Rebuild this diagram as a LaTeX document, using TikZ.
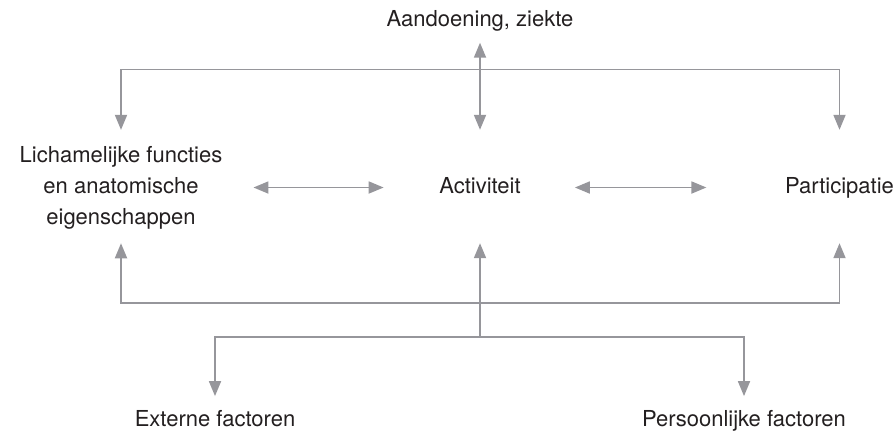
\documentclass[tikz,border=0pt]{standalone}
\usepackage{fontspec}
\setmainfont{TeX Gyre Heros}
\usepackage{xcolor}
\usetikzlibrary{arrows.meta}

\begin{document}
\begin{tikzpicture}[x=1pt,y=1pt,yscale=-1,xscale=1,
  tekst/.style={inner sep=0pt,text height=16pt,text depth=4pt,font=\fontsize{22}{31.3}\selectfont,color={rgb, 255:red, 35; green, 31; blue, 32 }},
  blok/.style={inner sep=0pt,align=center,font=\fontsize{22}{31.3}\selectfont,color={rgb, 255:red, 35; green, 31; blue, 32 }},
  pijl/.style={draw={rgb, 255:red, 150; green, 150; blue, 155 },line width=1.8pt,
    >={Triangle[length=15pt,width=12pt]}}]
\useasboundingbox (0,0) rectangle (896,432);

% Text Node
\draw (480,26.5) node [anchor=base,tekst] (ziekte) {Aandoening, ziekte};
% Text Node
\draw (121,187.8) node [blok] (functies) {Lichamelijke functies\\en anatomische\\eigenschappen};
% Text Node
\draw (480,193.5) node [anchor=base,tekst] (activiteit) {Activiteit};
% Text Node
\draw (839.5,193.5) node [anchor=base,tekst] (participatie) {Participatie};
% Text Node
\draw (215,426.7) node [anchor=base,tekst] (extern) {Externe factoren};
% Text Node
\draw (744,426.7) node [anchor=base,tekst] (persoonlijk) {Persoonlijke factoren};

\coordinate (boven) at (480,69.5);
\coordinate (onder) at (480,303.3);
\coordinate (splits) at (480,336.7);

%Straight Lines
\draw [pijl,<->,shorten <=12pt,shorten >=47.5pt] (ziekte.south) -- (activiteit.north);
\draw [pijl,->,shorten >=16pt] (boven) -| (functies.north);
\draw [pijl,->,shorten >=47.5pt] (boven) -| (participatie.north);
%Straight Lines
\draw [pijl,<->,shorten <=31pt,shorten >=55.5pt] (functies.east |- activiteit) -- (activiteit.west);
\draw [pijl,<->,shorten <=54pt,shorten >=78.5pt] (activiteit.east) -- (participatie.west);
%Straight Lines
\draw [pijl,->,shorten >=13.5pt] (onder) -| (functies.south);
\draw [pijl,->,shorten >=45.5pt] (onder) -| (participatie.south);
\draw [pijl,->,shorten >=45.5pt] (splits) -- (activiteit.south);
\draw [pijl,->,shorten >=14.4pt] (splits) -| (extern.north);
\draw [pijl,->,shorten >=14.4pt] (splits) -| (persoonlijk.north);

\end{tikzpicture}
\end{document}
